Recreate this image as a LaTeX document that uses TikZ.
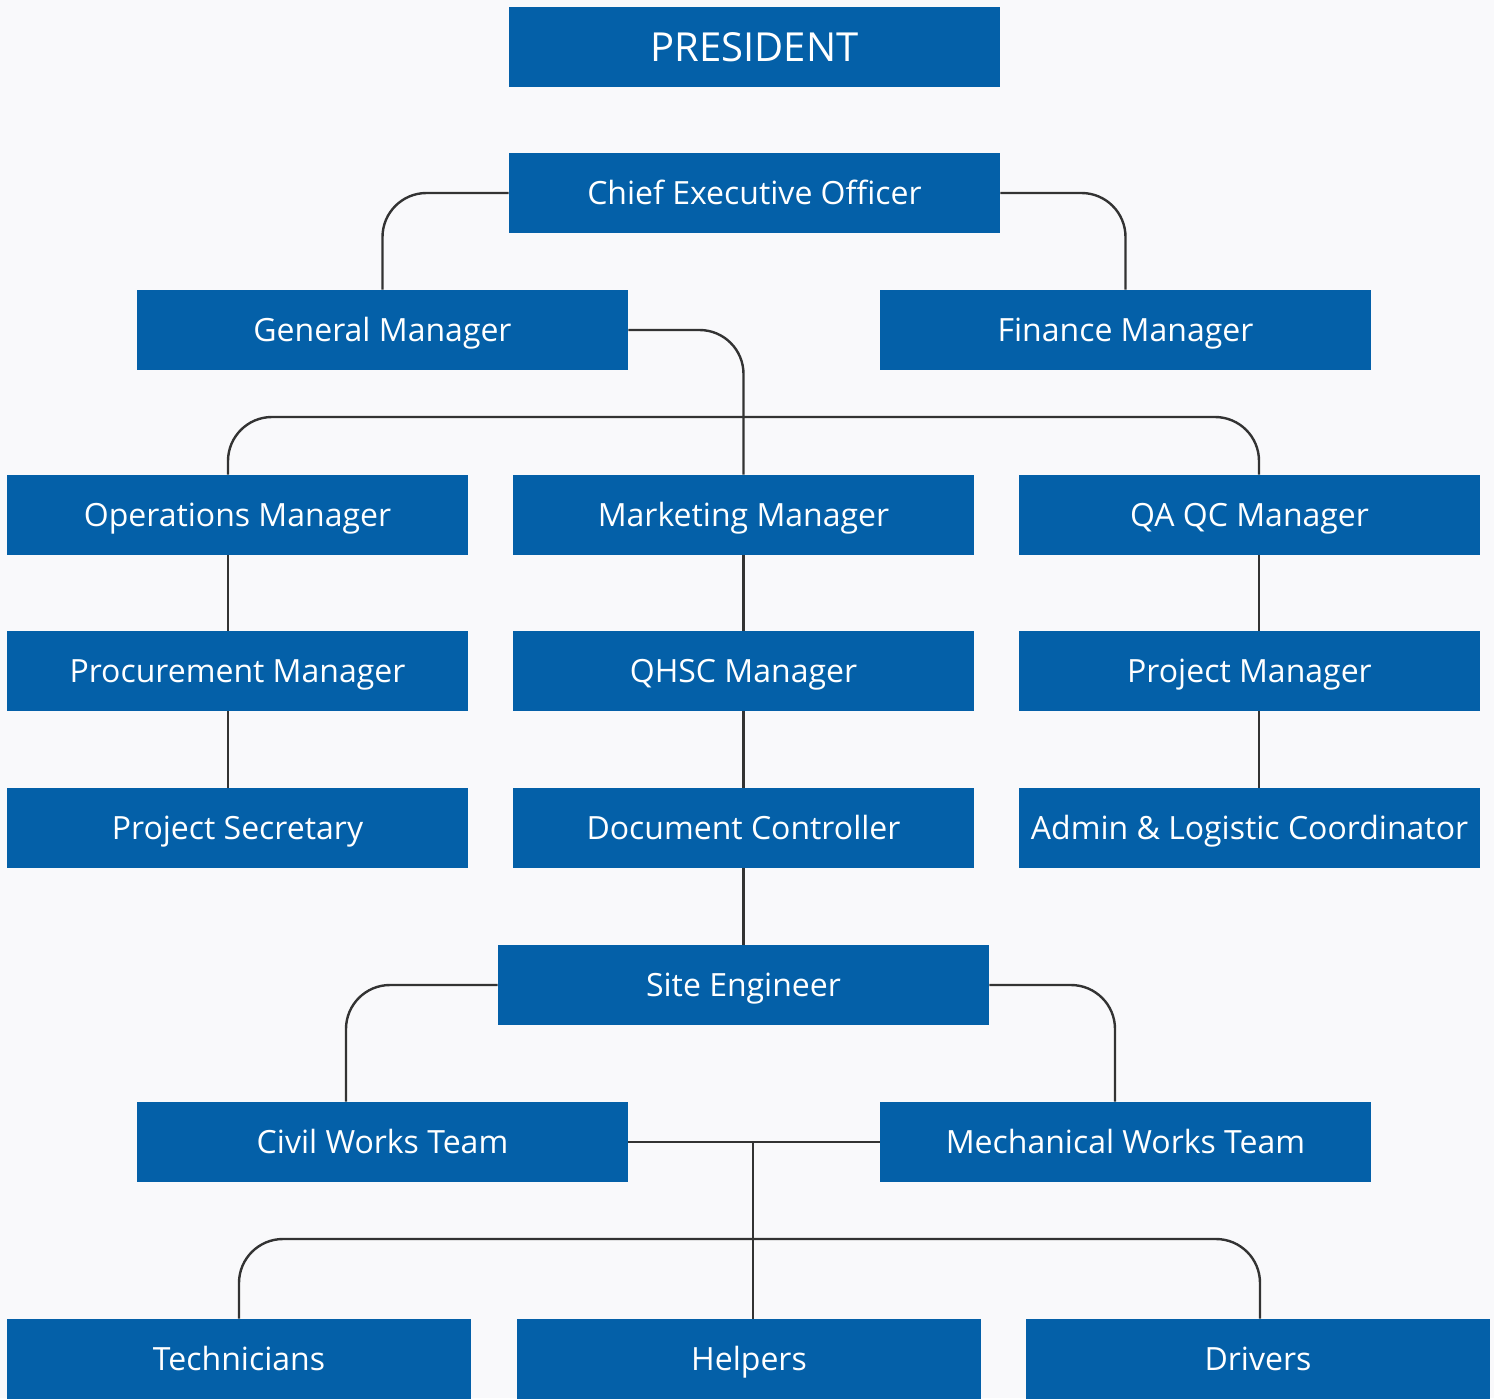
\documentclass[tikz,border=0pt]{standalone}
\usepackage{xcolor}
\usepackage{fontspec}
\setmainfont{Open Sans}
\usepackage{tikz}
\definecolor{boxcolor}{RGB}{4, 96, 168}
\definecolor{linecolor}{RGB}{51, 51, 51}
\definecolor{pagecolor}{RGB}{249, 249, 251}

\begin{document}
\begin{tikzpicture}[x=0.5pt, y=-0.5pt,
        box/.style={fill=boxcolor, text=white, inner sep=0pt, minimum width=245.5pt, minimum height=40pt, text height=11.4pt, text depth=0pt, font=\fontsize{16}{19}\selectfont},
        widebox/.style={box, minimum width=230.5pt},
        link/.style={draw=linecolor, line width=1.2pt, rounded corners=22pt}]
        % Background
        \fill[pagecolor] (0,0) rectangle (1494,1398);
        \useasboundingbox (0,0) rectangle (1494,1398);

        % Top Boxes
        \node[box, text height=14.3pt, font=\fontsize{20}{24}\selectfont] (pres) at (754.5,47) {PRESIDENT};
        \node[box] (ceo) at (754.5,193) {Chief Executive Officer};
        \node[box] (gm) at (382.5,330) {General Manager};
        \node[box] (fin) at (1125.5,330) {Finance Manager};

        % Manager Rows
        \node[widebox] (ops) at (237.5,515) {Operations Manager};
        \node[widebox] (mkt) at (743.5,515) {Marketing Manager};
        \node[widebox] (qaqc) at (1249.5,515) {QA QC Manager};
        \node[widebox] (proc) at (237.5,671) {Procurement Manager};
        \node[widebox] (qhsc) at (743.5,671) {QHSC Manager};
        \node[widebox] (pm) at (1249.5,671) {Project Manager};
        \node[widebox] (sec) at (237.5,828) {Project Secretary};
        \node[widebox] (doc) at (743.5,828) {Document Controller};
        \node[widebox] (admin) at (1249.5,828) {Admin \& Logistic Coordinator};

        % Site Boxes
        \node[box] (site) at (743.5,985) {Site Engineer};
        \node[box] (civil) at (382.5,1142) {Civil Works Team};
        \node[box] (mech) at (1125.5,1142) {Mechanical Works Team};

        % Bottom Row
        \node[box, minimum width=232pt] (tech) at (239,1359) {Technicians};
        \node[box, minimum width=232pt] (help) at (749,1359) {Helpers};
        \node[box, minimum width=232pt] (drv) at (1258,1359) {Drivers};

        % Junction points
        \coordinate (bar) at (743,417);
        \coordinate (joint) at (753,1142);
        \coordinate (bar2) at (753,1239);

        % Connections
        \draw[link] (ceo.west) -| (gm.north);
        \draw[link] (ceo.east) -| (fin.north);
        \draw[link] (gm.east) -| (mkt.north);
        \draw[link] ([xshift=-4.75pt]ops.north) |- (bar) -| ([xshift=4.75pt]qaqc.north);
        \draw[link] ([xshift=-4.75pt]ops.south) -- ([xshift=-4.75pt]proc.north);
        \draw[link] ([xshift=-4.75pt]proc.south) -- ([xshift=-4.75pt]sec.north);
        \draw[link] (mkt) -- (qhsc);
        \draw[link] (qhsc) -- (doc);
        \draw[link] ([xshift=4.75pt]qaqc.south) -- ([xshift=4.75pt]pm.north);
        \draw[link] ([xshift=4.75pt]pm.south) -- ([xshift=4.75pt]admin.north);
        \draw[link] (doc) -- (site);
        \draw[link] (site.west) -| ([xshift=-18.25pt]civil.north);
        \draw[link] (site.east) -| ([xshift=-5.25pt]mech.north);
        \draw[link] (civil.east) -- (mech.west);
        \draw[link] (joint) -- (joint |- help.north);
        \draw[link] (tech.north) |- (bar2) -| ([xshift=1pt]drv.north);
    \end{tikzpicture}
\end{document}
